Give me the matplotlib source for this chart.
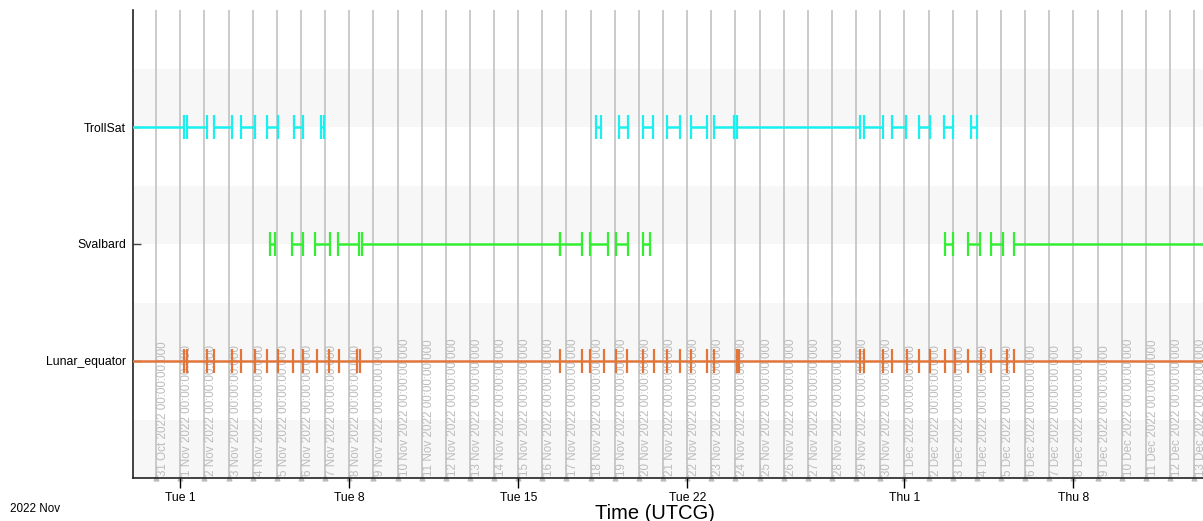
import matplotlib.pyplot as plt
import matplotlib.dates as mdates
import matplotlib.transforms as mtransforms
import pandas as pd

plt.rcParams['font.family'] = ['Liberation Sans', 'DejaVu Sans']

# visible time window
view_start = pd.Timestamp('2022-10-30 01:00')
view_end = pd.Timestamp('2022-12-13 08:50')

# access intervals (start, end)
trollsat = [
    ('2022-10-29 12:00', '2022-11-01 04:00'),
    ('2022-11-01 07:00', '2022-11-02 02:50'),
    ('2022-11-02 09:30', '2022-11-03 03:05'),
    ('2022-11-03 12:03', '2022-11-04 02:15'),
    ('2022-11-04 14:30', '2022-11-05 01:26'),
    ('2022-11-05 17:02', '2022-11-06 01:41'),
    ('2022-11-06 19:53', '2022-11-06 22:52'),
    ('2022-11-18 05:17', '2022-11-18 09:58'),
    ('2022-11-19 04:28', '2022-11-19 13:24'),
    ('2022-11-20 04:19', '2022-11-20 13:40'),
    ('2022-11-21 04:05', '2022-11-21 16:48'),
    ('2022-11-22 03:45', '2022-11-22 19:21'),
    ('2022-11-23 02:35', '2022-11-23 22:29'),
    ('2022-11-24 01:41', '2022-11-29 03:46'),
    ('2022-11-29 07:45', '2022-11-30 02:20'),
    ('2022-11-30 11:53', '2022-12-01 01:12'),
    ('2022-12-01 14:24', '2022-12-02 01:20'),
    ('2022-12-02 15:36', '2022-12-03 00:29'),
    ('2022-12-03 17:46', '2022-12-04 00:23'),
]

svalbard = [
    ('2022-11-04 17:11', '2022-11-04 22:09'),
    ('2022-11-05 15:22', '2022-11-06 01:41'),
    ('2022-11-06 13:55', '2022-11-07 04:48'),
    ('2022-11-07 13:05', '2022-11-08 09:36'),
    ('2022-11-08 12:20', '2022-11-16 17:31'),
    ('2022-11-16 18:00', '2022-11-17 15:07'),
    ('2022-11-17 23:20', '2022-11-18 17:31'),
    ('2022-11-19 01:12', '2022-11-19 13:24'),
    ('2022-11-20 04:19', '2022-11-20 10:58'),
    ('2022-12-02 16:19', '2022-12-03 00:29'),
    ('2022-12-03 14:53', '2022-12-04 02:40'),
    ('2022-12-04 13:55', '2022-12-05 02:00'),
    ('2022-12-05 12:53', '2022-12-15 00:00'),
]

# Lunar_equator: one continuous span with event marks
lunar_span = [('2022-10-29 12:00', '2022-12-15 00:00')]
lunar_events = [
    '2022-11-01 04:00', '2022-11-01 07:00', '2022-11-02 02:50', '2022-11-02 09:30',
    '2022-11-03 03:05', '2022-11-03 12:03', '2022-11-04 02:15', '2022-11-04 14:30',
    '2022-11-05 01:26', '2022-11-05 15:45', '2022-11-06 01:41', '2022-11-06 15:36',
    '2022-11-07 04:08', '2022-11-07 14:05', '2022-11-08 07:22', '2022-11-08 10:39',
    '2022-11-16 17:31', '2022-11-17 15:07', '2022-11-17 23:20', '2022-11-18 13:27',
    '2022-11-19 01:12', '2022-11-19 12:28', '2022-11-20 04:19', '2022-11-20 15:14',
    '2022-11-21 03:36', '2022-11-21 16:48', '2022-11-22 03:26', '2022-11-22 19:21',
    '2022-11-23 02:35', '2022-11-24 01:10', '2022-11-24 03:27', '2022-11-29 03:46',
    '2022-11-29 07:45', '2022-11-30 02:53', '2022-11-30 11:17', '2022-12-01 02:10',
    '2022-12-01 14:24', '2022-12-02 01:20', '2022-12-02 16:19', '2022-12-03 02:10',
    '2022-12-03 15:22', '2022-12-04 03:45', '2022-12-04 13:41', '2022-12-05 05:31',
    '2022-12-05 12:53',
]

row_names = ['TrollSat', 'Svalbard', 'Lunar_equator']
row_colors = ['#19f0f0', '#33ee33', '#e2763a']

tick_days = ['2022-11-01', '2022-11-08', '2022-11-15', '2022-11-22', '2022-12-01', '2022-12-08']
tick_labels = ['Tue 1', 'Tue 8', 'Tue 15', 'Tue 22', 'Thu 1', 'Thu 8']

fig = plt.figure(figsize=(12.03, 5.21), dpi=100)
ax = fig.add_axes([133/1203, 43/521, 1 - 133/1203, 468/521])
ax.set_xlim(view_start, view_end)
ax.set_ylim(0, 8)

# alternating grey bands
for k in range(0, 8, 2):
    ax.axhspan(k, k + 1, color='#f7f7f7', zorder=0, lw=0)

# daily grid lines with their date labels
days = pd.date_range('2022-10-31', '2022-12-13', freq='D')
shift = mtransforms.offset_copy(ax.transData, fig=fig, x=1, y=0, units='dots')
for d in days:
    ax.axvline(d, color='#c2c2c2', lw=1.2, zorder=1)
    ax.plot([d], [0], marker='^', ms=3.5, color='#bdbdbd', clip_on=False, zorder=1)
    ax.text(d, 0.04, f"{d.day} {d.strftime('%b %Y')} 00:00:00.000", rotation=90,
            ha='left', va='bottom', fontsize=8.4, color='#bcbcbc', zorder=2,
            transform=shift, clip_on=True)

row_y = [6, 4, 2]
cap = 0.2


def draw_intervals(intervals, y, color):
    for s, e in intervals:
        s, e = pd.Timestamp(s), pd.Timestamp(e)
        ax.hlines(y, s, e, color=color, lw=1.8, zorder=3)
        ax.vlines([s, e], y - cap, y + cap, color=color, lw=1.6, zorder=3)


draw_intervals(trollsat, row_y[0], row_colors[0])
draw_intervals(svalbard, row_y[1], row_colors[1])
ax.hlines(row_y[2], pd.Timestamp(lunar_span[0][0]), pd.Timestamp(lunar_span[0][1]),
          color=row_colors[2], lw=1.8, zorder=3)
ax.vlines(pd.to_datetime(lunar_events), row_y[2] - cap, row_y[2] + cap,
          color=row_colors[2], lw=1.6, zorder=3)

ax.set_yticks(row_y)
ax.set_yticklabels(row_names, fontsize=8.8)
ax.tick_params(axis='y', direction='in', length=6, width=1, color='#444444', pad=5)

ax.set_xticks(pd.to_datetime(tick_days))
ax.set_xticklabels(tick_labels, fontsize=8.8)
ax.tick_params(axis='x', direction='out', length=7, width=1, color='black', pad=3)
ax.set_xlabel('Time (UTCG)', fontsize=14.5)
ax.xaxis.set_label_coords(0.488, -0.055)

for side in ['top', 'right']:
    ax.spines[side].set_visible(False)
for side in ['left', 'bottom']:
    ax.spines[side].set_color('#222222')
    ax.spines[side].set_linewidth(1.2)

fig.text(10/1203, 1 - 509/521, '2022 Nov', fontsize=8.4, va='center', ha='left')

fig.savefig('out.png', dpi=100)
